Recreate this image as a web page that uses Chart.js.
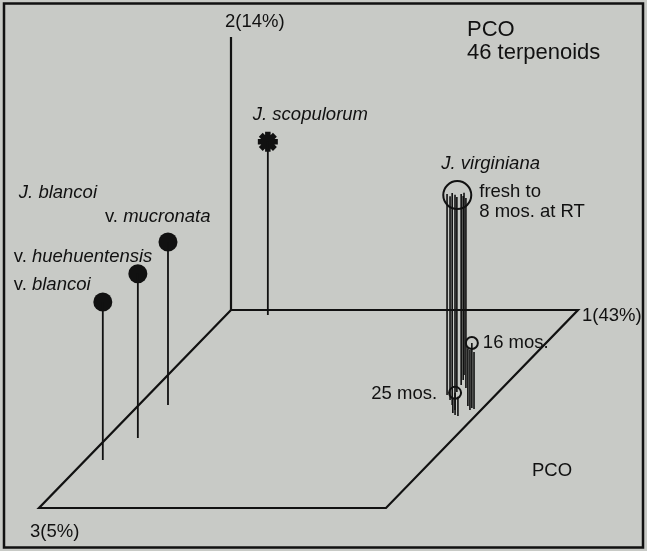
<!DOCTYPE html>
<html>
<head>
<meta charset="utf-8">
<script src="https://cdn.jsdelivr.net/npm/chart.js@4"></script>
<style>
  html, body { margin: 0; padding: 0; background: #c9cbc7; }
  #wrap { width: 647px; height: 551px; }
</style>
</head>
<body>
<div id="wrap"><canvas id="pco" width="647" height="551"></canvas></div>
<script>
// PCO scores, scaled so the drawn box runs 0..1 on each axis
const axisLabels = ['1(43%)', '2(14%)', '3(5%)'];

// J. blancoi varieties
const blancoiVars = ['blancoi', 'huehuentensis', 'mucronata'];
const blancoiPc1 = [0.050, 0.089, 0.084];
const blancoiPc2 = [0.579, 0.601, 0.597];
const blancoiPc3 = [0.758, 0.646, 0.480];

// J. scopulorum
const scopPc1 = [0.120];
const scopPc2 = [0.634];
const scopPc3 = [0.025];

// J. virginiana, fresh to 8 mos. at RT
const virgFreshPc1 = [0.860, 0.883, 0.903, 0.925, 0.880, 0.873, 0.865, 0.853, 0.895];
const virgFreshPc2 = [0.736, 0.747, 0.777, 0.788, 0.714, 0.700, 0.674, 0.667, 0.696];
const virgFreshPc3 = [0.429, 0.455, 0.480, 0.505, 0.414, 0.379, 0.354, 0.328, 0.394];

// J. virginiana, 16 mos.
const virg16Pc1 = [0.968, 0.968, 0.951, 0.977];
const virg16Pc2 = [0.238, 0.220, 0.212, 0.209];
const virg16Pc3 = [0.495, 0.505, 0.485, 0.500];

// J. virginiana, 25 mos.
const virg25Pc1 = [0.939, 0.927, 0.950];
const virg25Pc2 = [0.081, 0.055, 0.070];
const virg25Pc3 = [0.530, 0.520, 0.535];

// oblique view: axis 3 runs down and to the left
const DEPTH_X = 192 / 347;
const DEPTH_Y = 198 / 273;
function proj(p1, p2, p3) {
  return { x: p1 - DEPTH_X * p3, y: p2 - DEPTH_Y * p3 };
}

const INK = '#111';
const FONT = '"Liberation Sans", Arial, sans-serif';

function line(points, width) {
  return {
    data: points, showLine: true, borderColor: INK, borderWidth: width,
    pointRadius: 0, fill: false, tension: 0
  };
}

const datasets = [];

// floor of the box and the vertical axis 2
datasets.push(line([proj(0, 0, 0), proj(1, 0, 0), proj(1, 0, 1), proj(0, 0, 1), proj(0, 0, 0)], 2.2));
datasets.push(line([proj(0, 0, 0), proj(0, 1, 0)], 2.2));

// drop lines from each sample to the floor
function stems(p1, p2, p3, width) {
  p1.forEach(function (v, i) {
    datasets.push(line([proj(v, p2[i], p3[i]), proj(v, 0, p3[i])], width));
  });
}
stems(blancoiPc1, blancoiPc2, blancoiPc3, 1.8);
stems(scopPc1, scopPc2, scopPc3, 1.8);
stems(virgFreshPc1, virgFreshPc2, virgFreshPc3, 1.6);
stems(virg16Pc1, virg16Pc2, virg16Pc3, 1.6);
stems(virg25Pc1, virg25Pc2, virg25Pc3, 1.6);

function tops(p1, p2, p3) {
  return p1.map(function (v, i) { return proj(v, p2[i], p3[i]); });
}
function mean(pts) {
  const n = pts.length;
  return {
    x: pts.reduce(function (s, p) { return s + p.x; }, 0) / n,
    y: pts.reduce(function (s, p) { return s + p.y; }, 0) / n
  };
}

const blancoiTops = tops(blancoiPc1, blancoiPc2, blancoiPc3);
const scopTops = tops(scopPc1, scopPc2, scopPc3);
const freshRing = mean(tops(virgFreshPc1, virgFreshPc2, virgFreshPc3));
const ring16 = tops(virg16Pc1, virg16Pc2, virg16Pc3)[0];
const ring25 = tops(virg25Pc1, virg25Pc2, virg25Pc3)[0];

datasets.push({
  data: blancoiTops, pointStyle: 'circle', pointRadius: 9.5,
  backgroundColor: INK, borderColor: INK, borderWidth: 0
});
datasets.push({
  data: scopTops, pointStyle: 'star', pointRadius: 10,
  backgroundColor: INK, borderColor: INK, borderWidth: 5.5
});
datasets.push({
  data: [freshRing], pointStyle: 'circle', pointRadius: 14,
  backgroundColor: 'rgba(0,0,0,0)', borderColor: INK, borderWidth: 2
});
datasets.push({
  data: [ring16, ring25], pointStyle: 'circle', pointRadius: 6,
  backgroundColor: 'rgba(0,0,0,0)', borderColor: INK, borderWidth: 2
});

// text pieces: [string, italic]
function drawParts(ctx, x, y, parts, size, align) {
  let total = 0;
  parts.forEach(function (p) {
    ctx.font = (p[1] ? 'italic ' : '') + size + 'px ' + FONT;
    total += ctx.measureText(p[0]).width;
  });
  let cx = align === 'right' ? x - total : x;
  ctx.textAlign = 'left';
  parts.forEach(function (p) {
    ctx.font = (p[1] ? 'italic ' : '') + size + 'px ' + FONT;
    ctx.fillText(p[0], cx, y);
    cx += ctx.measureText(p[0]).width;
  });
}

const framePlugin = {
  id: 'frame',
  beforeDraw: function (chart) {
    const ctx = chart.ctx;
    ctx.save();
    ctx.fillStyle = '#c8cac6';
    ctx.fillRect(0, 0, chart.width, chart.height);
    ctx.strokeStyle = INK;
    ctx.lineWidth = 2.5;
    ctx.strokeRect(4, 3.5, chart.width - 8, chart.height - 7);
    ctx.restore();
  }
};

const labelPlugin = {
  id: 'labels',
  afterDatasetsDraw: function (chart) {
    const ctx = chart.ctx;
    const xs = chart.scales.x, ys = chart.scales.y;
    function px(p) { return { x: xs.getPixelForValue(p.x), y: ys.getPixelForValue(p.y) }; }
    ctx.save();
    ctx.fillStyle = INK;
    ctx.textBaseline = 'alphabetic';
    const S = 18.5;

    // title
    ctx.font = '22px ' + FONT;
    ctx.fillText('PCO', 467, 36);
    ctx.fillText('46 terpenoids', 467, 59);

    // axis labels
    const a1 = px(proj(1, 0, 0)), a2 = px(proj(0, 1, 0)), a3 = px(proj(0, 0, 1));
    drawParts(ctx, a1.x + 4, a1.y + 11, [[axisLabels[0], false]], S);
    drawParts(ctx, a2.x - 6, a2.y - 10, [[axisLabels[1], false]], S);
    drawParts(ctx, a3.x - 9, a3.y + 29, [[axisLabels[2], false]], S);
    const fr = px(proj(1, 0, 1));
    drawParts(ctx, fr.x + 146, fr.y - 32, [['PCO', false]], S);

    // J. blancoi group
    const b = blancoiTops.map(px);
    drawParts(ctx, b[1].x - 119, b[1].y - 76, [['J. blancoi', true]], S);
    drawParts(ctx, b[0].x - 89, b[0].y - 12, [['v. ', false], [blancoiVars[0], true]], S);
    drawParts(ctx, b[1].x - 124, b[1].y - 12, [['v. ', false], [blancoiVars[1], true]], S);
    drawParts(ctx, b[2].x - 63, b[2].y - 20, [['v. ', false], [blancoiVars[2], true]], S);

    // J. scopulorum
    const s = px(scopTops[0]);
    drawParts(ctx, s.x - 15, s.y - 22, [['J. scopulorum', true]], S);

    // J. virginiana
    const f = px(freshRing);
    drawParts(ctx, f.x - 16, f.y - 26, [['J. virginiana', true]], S);
    drawParts(ctx, f.x + 22, f.y + 2, [['fresh to', false]], S);
    drawParts(ctx, f.x + 22, f.y + 22, [['8 mos. at RT', false]], S);
    const r16 = px(ring16), r25 = px(ring25);
    drawParts(ctx, r16.x + 11, r16.y + 5, [['16 mos.', false]], S);
    drawParts(ctx, r25.x - 18, r25.y + 6, [['25 mos.', false]], S, 'right');
    ctx.restore();
  }
};

new Chart(document.getElementById('pco'), {
  type: 'scatter',
  data: { datasets: datasets },
  options: {
    responsive: false,
    animation: false,
    layout: { padding: 0, autoPadding: false },
    scales: {
      x: { display: false, min: -231 / 347, max: 416 / 347 },
      y: { display: false, min: -241 / 273, max: 310 / 273 }
    },
    plugins: { legend: { display: false }, tooltip: { enabled: false } }
  },
  plugins: [framePlugin, labelPlugin]
});
</script>
</body>
</html>
